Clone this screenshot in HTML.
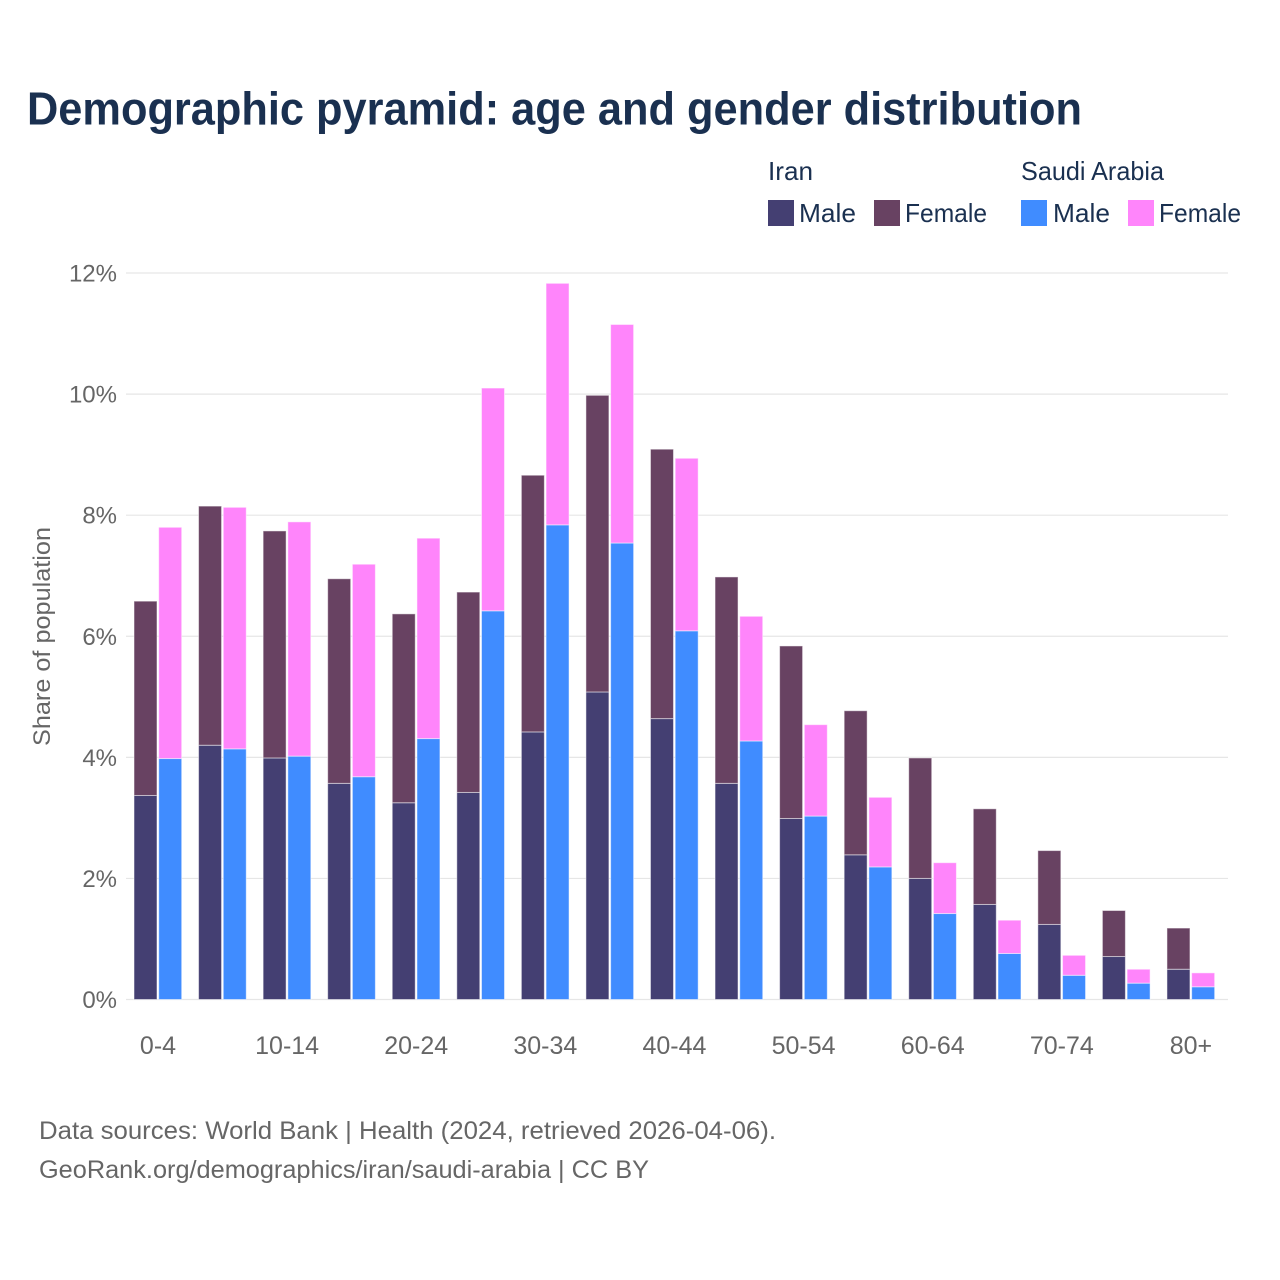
<!DOCTYPE html>
<html lang="en">
<head>
<meta charset="utf-8">
<title>Demographic pyramid: age and gender distribution</title>
<style>
html,body{margin:0;padding:0;background:#fff;}
#chart{display:block;width:1280px;height:1280px;font-family:"Liberation Sans",sans-serif;}
</style>
</head>
<body>
<svg id="chart" xmlns="http://www.w3.org/2000/svg" width="1280" height="1280" viewBox="0 0 1280 1280">
  <rect x="0" y="0" width="1280" height="1280" fill="#ffffff"/>
  <text x="27" y="124.5" font-size="46" font-weight="700" fill="#1a3050" textLength="1055" lengthAdjust="spacingAndGlyphs">Demographic pyramid: age and gender distribution</text>

  <g font-size="26" fill="#1a3050">
    <text x="768" y="180" textLength="45" lengthAdjust="spacingAndGlyphs">Iran</text>
    <text x="1021" y="180" textLength="143" lengthAdjust="spacingAndGlyphs">Saudi Arabia</text>
    <rect x="768" y="200" width="26" height="26" fill="#443f72"/>
    <text x="799" y="222" textLength="57" lengthAdjust="spacingAndGlyphs">Male</text>
    <rect x="874" y="200" width="26" height="26" fill="#684262"/>
    <text x="905" y="222" textLength="82" lengthAdjust="spacingAndGlyphs">Female</text>
    <rect x="1021" y="200" width="26" height="26" fill="#408cff"/>
    <text x="1053" y="222" textLength="57" lengthAdjust="spacingAndGlyphs">Male</text>
    <rect x="1128" y="200" width="26" height="26" fill="#ff85fb"/>
    <text x="1159" y="222" textLength="82" lengthAdjust="spacingAndGlyphs">Female</text>
  </g>

  <g id="grid"></g>
  <g id="bars"></g>
  <g id="yticks"></g>
  <g id="xticks"></g>

  <text transform="translate(50 636.5) rotate(-90)" text-anchor="middle" font-size="24" fill="#666666" textLength="219" lengthAdjust="spacingAndGlyphs">Share of population</text>

  <text x="39" y="1139" font-size="25" fill="#666666" textLength="737" lengthAdjust="spacingAndGlyphs">Data sources: World Bank | Health (2024, retrieved 2026-04-06).</text>
  <text x="39" y="1178" font-size="25" fill="#666666" textLength="610" lengthAdjust="spacingAndGlyphs">GeoRank.org/demographics/iran/saudi-arabia | CC BY</text>
</svg>
<script>
const categories = ['0-4','5-9','10-14','15-19','20-24','25-29','30-34','35-39','40-44','45-49','50-54','55-59','60-64','65-69','70-74','75-79','80+'];
const iranMale = [3.37,4.20,3.99,3.57,3.25,3.42,4.42,5.08,4.64,3.57,2.99,2.39,2.00,1.57,1.24,0.71,0.50];
const iranFemale = [3.21,3.95,3.75,3.38,3.12,3.31,4.24,4.90,4.45,3.41,2.85,2.38,1.99,1.58,1.22,0.76,0.68];
const saudiMale = [3.98,4.14,4.02,3.68,4.31,6.42,7.84,7.54,6.09,4.27,3.03,2.19,1.42,0.76,0.40,0.27,0.21];
const saudiFemale = [3.82,3.99,3.87,3.51,3.31,3.68,3.99,3.61,2.85,2.06,1.51,1.15,0.84,0.55,0.33,0.23,0.23];
const yTicks = [0,2,4,6,8,10,12];
const xTickLabels = ['0-4','10-14','20-24','30-34','40-44','50-54','60-64','70-74','80+'];

const NS = 'http://www.w3.org/2000/svg';
const yScale = function (v) { return 999.5 - v * 60.54; };
const xScale = function (cat) { return 158 + categories.indexOf(cat) * 64.56; };

const gridG = document.getElementById('grid');
const yG = document.getElementById('yticks');
yTicks.forEach(function (t) {
  const line = document.createElementNS(NS, 'line');
  line.setAttribute('x1', 126);
  line.setAttribute('x2', 1228);
  line.setAttribute('y1', yScale(t));
  line.setAttribute('y2', yScale(t));
  line.setAttribute('stroke', '#e6e6e6');
  line.setAttribute('stroke-width', 1.2);
  
  
  gridG.appendChild(line);
  const label = document.createElementNS(NS, 'text');
  label.setAttribute('x', 117);
  label.setAttribute('y', yScale(t) + 8.5);
  label.setAttribute('text-anchor', 'end');
  label.setAttribute('font-size', 24);
  label.setAttribute('fill', '#666666');
  label.textContent = t + '%';
  
  
  yG.appendChild(label);
});

const xG = document.getElementById('xticks');
xTickLabels.forEach(function (c) {
  const label = document.createElementNS(NS, 'text');
  label.setAttribute('x', xScale(c));
  label.setAttribute('y', 1054);
  label.setAttribute('text-anchor', 'middle');
  label.setAttribute('font-size', 25);
  label.setAttribute('fill', '#666666');
  label.textContent = c;
  
  
  xG.appendChild(label);
});

const barsG = document.getElementById('bars');
function addSegment(x, base, value, fill, name) {
  const r = document.createElementNS(NS, 'rect');
  const top = yScale(base + value);
  r.setAttribute('x', x);
  r.setAttribute('y', top);
  r.setAttribute('width', 23);
  r.setAttribute('height', yScale(base) - top);
  r.setAttribute('fill', fill);
  r.setAttribute('stroke', 'rgba(255,255,255,0.5)');
  r.setAttribute('stroke-width', 1);
  
  
  barsG.appendChild(r);
}
categories.forEach(function (c, i) {
  const cx = xScale(c);
  addSegment(cx - 24, 0, iranMale[i], '#443f72', 'bar-iran-male-' + c);
  addSegment(cx - 24, iranMale[i], iranFemale[i], '#684262', 'bar-iran-female-' + c);
  addSegment(cx + 0.7, 0, saudiMale[i], '#408cff', 'bar-saudi-male-' + c);
  addSegment(cx + 0.7, saudiMale[i], saudiFemale[i], '#ff85fb', 'bar-saudi-female-' + c);
});
</script>
</body>
</html>
